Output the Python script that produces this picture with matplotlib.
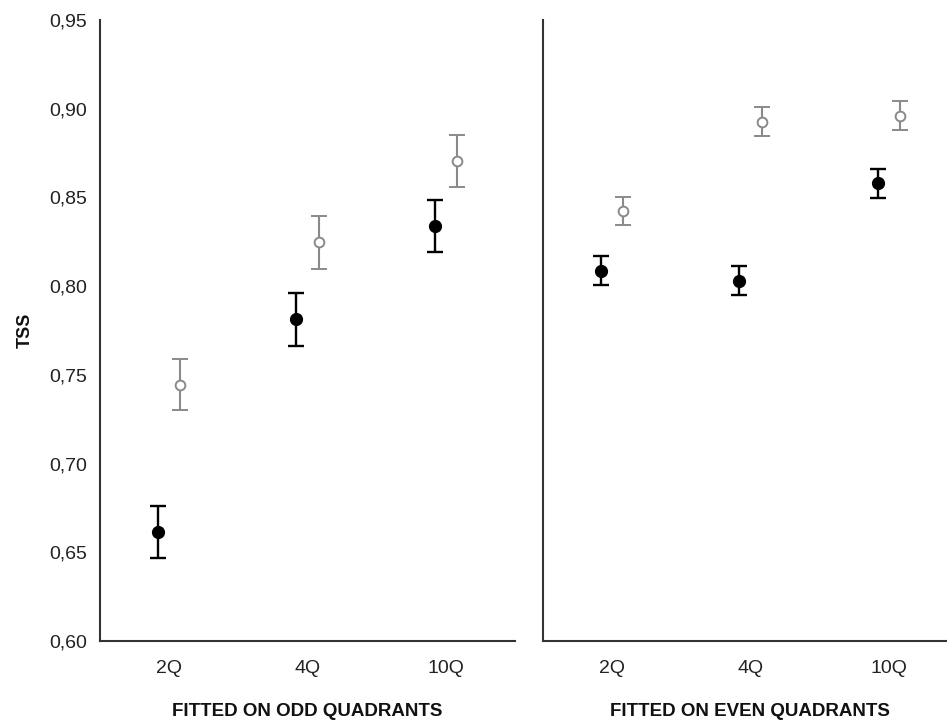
import numpy as np
from matplotlib import pyplot as plt

plt.rcParams['font.family'] = ['Liberation Sans', 'DejaVu Sans']

# categories and values
categories = ['2Q', '4Q', '10Q']
panel_titles = ['FITTED ON ODD QUADRANTS', 'FITTED ON EVEN QUADRANTS']

odd_filled = [0.6615, 0.7812, 0.8340]
odd_filled_err = [0.0148, 0.0149, 0.0148]
odd_open = [0.7445, 0.8247, 0.8705]
odd_open_err = [0.0144, 0.0150, 0.0147]

even_filled = [0.8087, 0.8031, 0.8580]
even_filled_err = [0.0082, 0.0080, 0.0081]
even_open = [0.8423, 0.8927, 0.8961]
even_open_err = [0.0080, 0.0081, 0.0080]

W, H = 947, 726
fig = plt.figure(figsize=(W/100, H/100), dpi=100)

def px_axes(x0, y0, x1, y1):
	# pixel box (top-left origin) -> figure fraction
	return fig.add_axes([x0/W, 1 - y1/H, (x1 - x0)/W, (y1 - y0)/H])

ax1 = px_axes(100, 20, 515, 641)
ax2 = px_axes(543, 20, 958, 641)

off = 0.08
x = np.arange(len(categories))

panels = [
	(ax1, odd_filled, odd_filled_err, odd_open, odd_open_err),
	(ax2, even_filled, even_filled_err, even_open, even_open_err),
]

for i, (ax, fv, fe, ov, oe) in enumerate(panels):
	ax.errorbar(x - off, fv, yerr=fe, fmt='o', color='black', ms=8.5,
				elinewidth=1.7, capsize=6, capthick=1.7, zorder=3)
	ax.errorbar(x + off, ov, yerr=oe, fmt='o', color='#8a8a8a', mfc='white',
				mec='#8a8a8a', mew=1.4, ms=7, elinewidth=1.5, capsize=6,
				capthick=1.5, zorder=3)
	ax.set_xlim(-0.5, 2.5)
	ax.set_ylim(0.60, 0.95)
	ax.set_xticks(x)
	ax.set_xticklabels(categories, fontsize=14, color='#222222')
	ax.tick_params(axis='x', length=0, pad=14)
	ax.tick_params(axis='y', length=0, pad=9)
	ax.spines['top'].set_visible(False)
	ax.spines['right'].set_visible(False)
	for s in ['left', 'bottom']:
		ax.spines[s].set_color('#333333')
		ax.spines[s].set_linewidth(1.5)
	ax.set_xlabel(panel_titles[i], fontsize=13.5, fontweight='bold', color='#111111')
	ax.xaxis.set_label_coords(0.5 if i == 0 else (750 - 543) / 415, (641 - 703) / 621)
	if i == 0:
		ticks = np.arange(0.60, 0.951, 0.05)
		ax.set_yticks(ticks)
		ax.set_yticklabels([('%.2f' % t).replace('.', ',') for t in ticks],
						   fontsize=14, color='#222222')
		ax.set_ylabel('TSS', fontsize=13, fontweight='bold', color='#111111')
		ax.yaxis.set_label_coords((34 - 100) / 415, 0.5)
	else:
		ax.set_yticks([])

fig.savefig('out.png', dpi=100)
